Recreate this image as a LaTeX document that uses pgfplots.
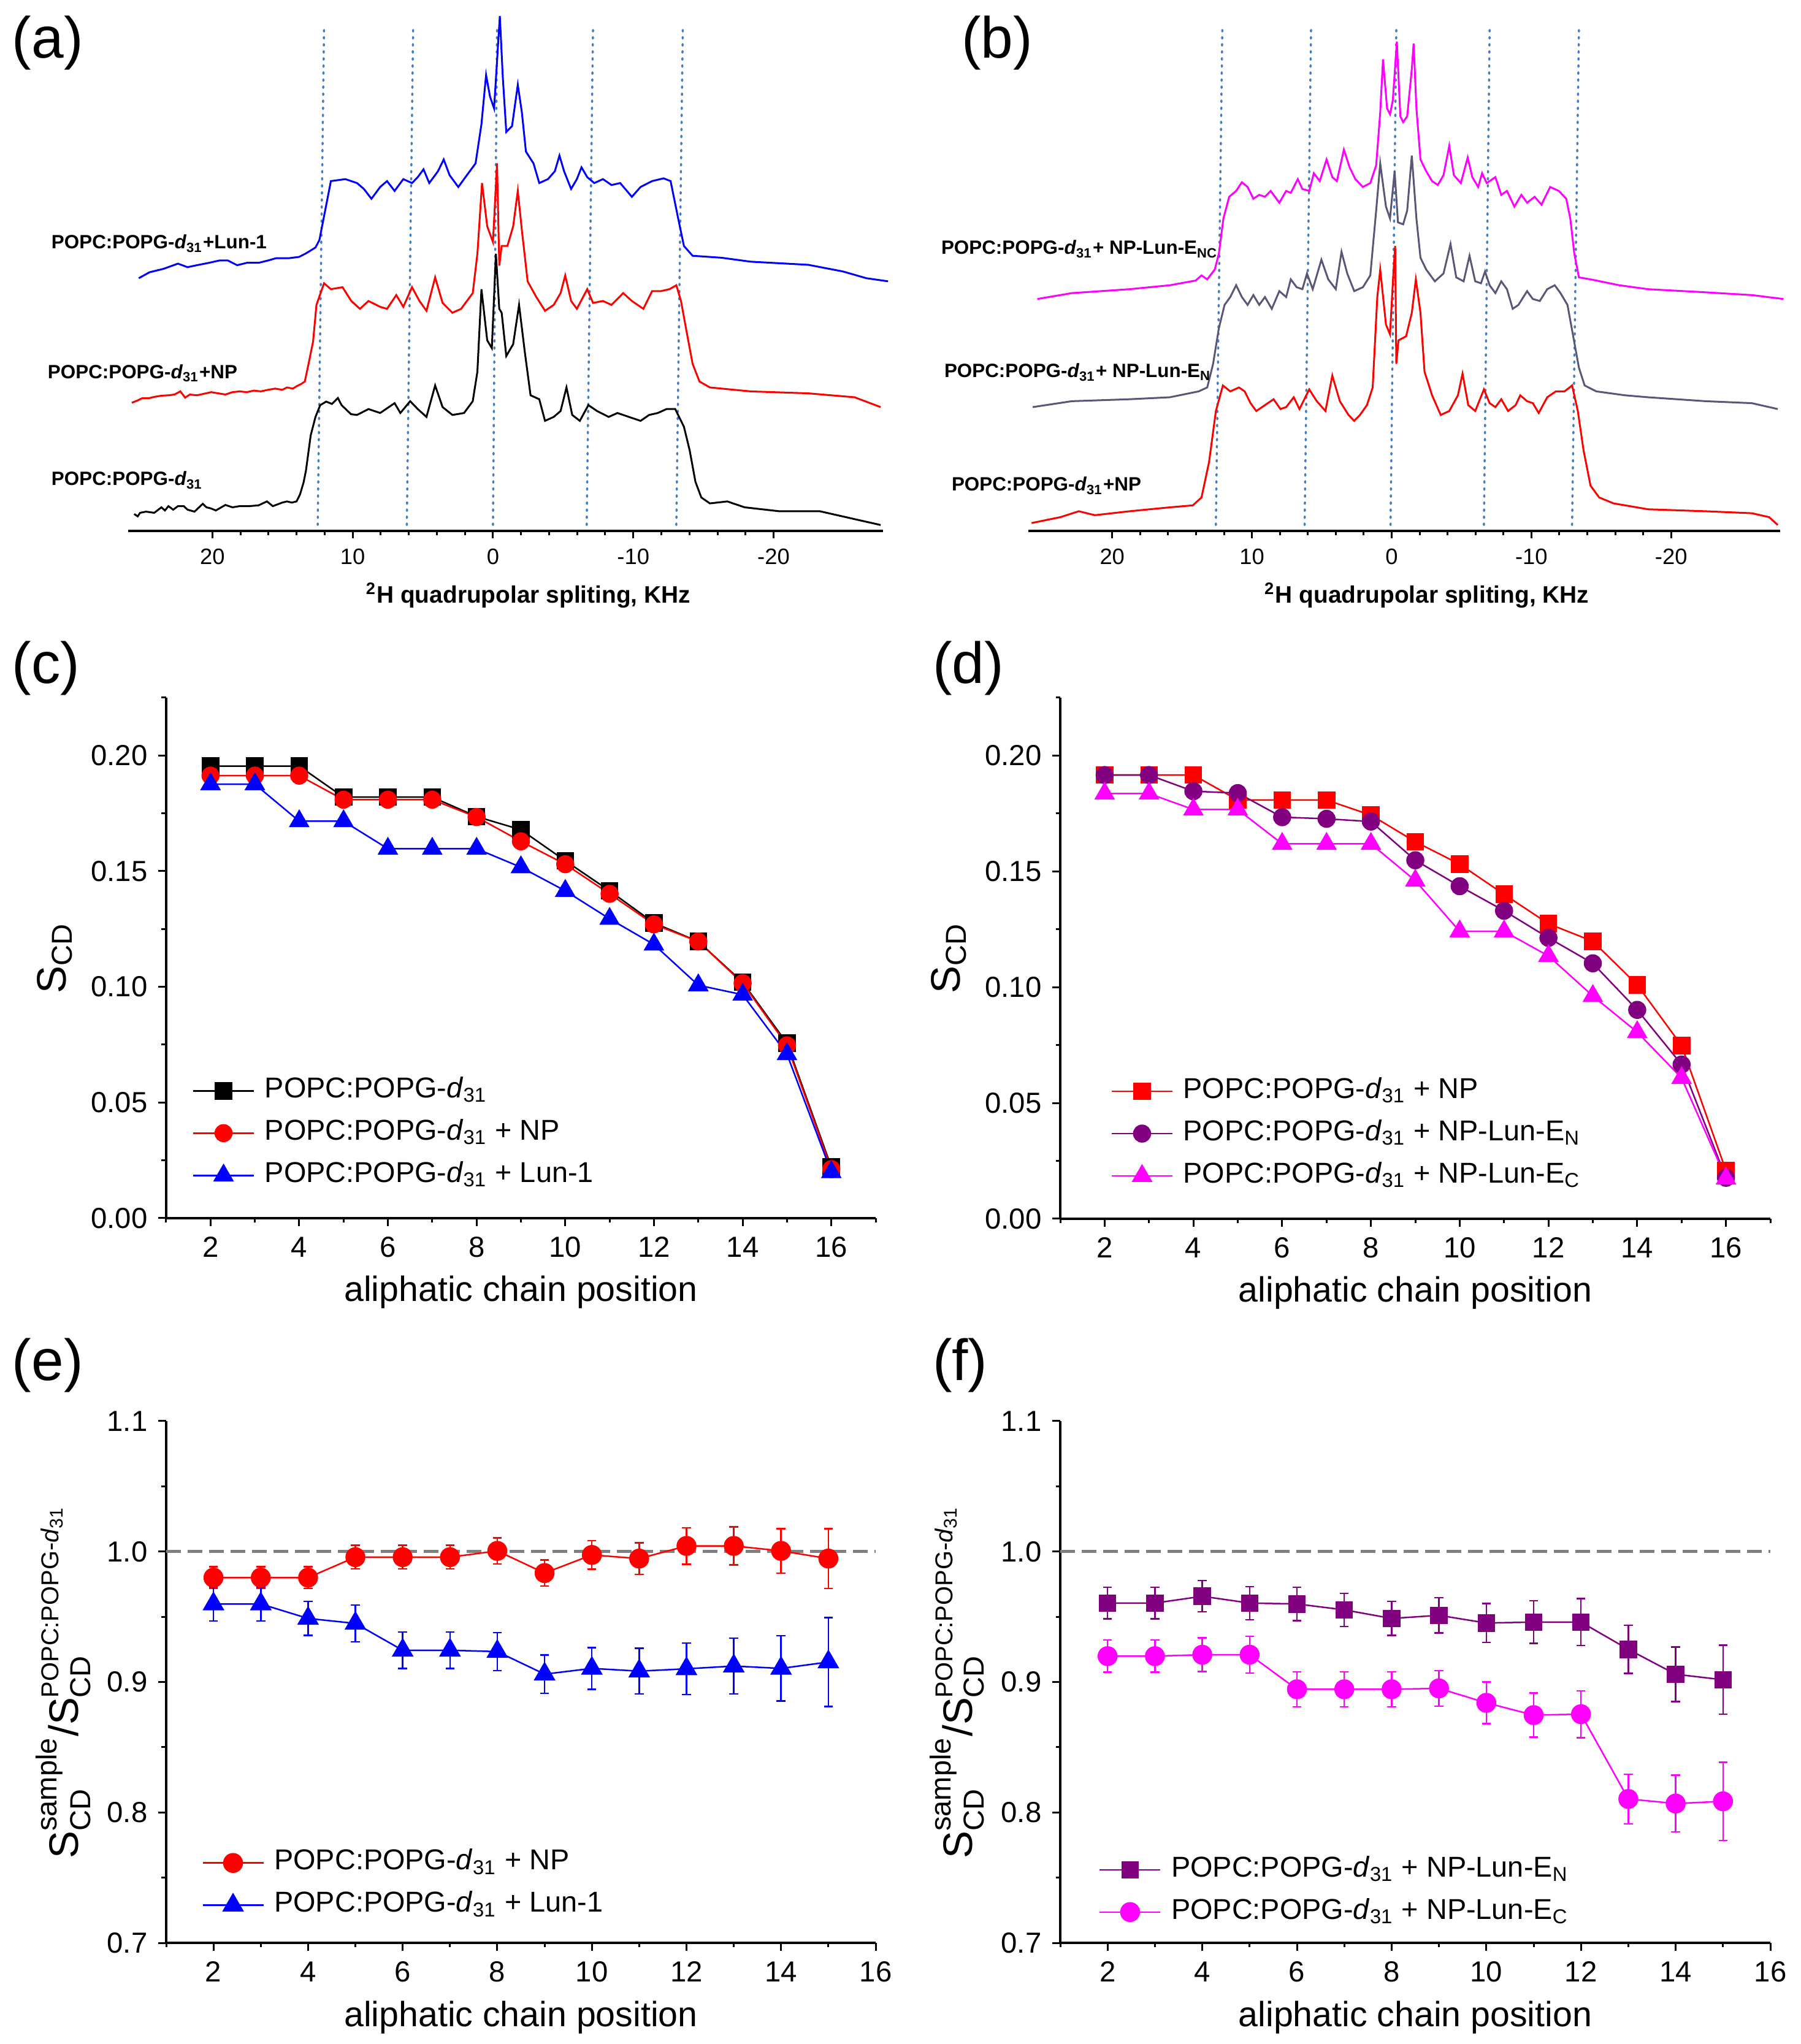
\documentclass[border=0pt]{standalone}
\usepackage{pgfplots}
\usepackage{pgfplotstable}
\pgfplotsset{compat=1.18}
\usepackage{amsmath}
\usepackage{fontspec}
\setmainfont{Liberation Sans}
\definecolor{cRed}{RGB}{255,0,0}
\definecolor{cBlue}{RGB}{0,0,255}
\definecolor{cMag}{RGB}{255,0,255}
\definecolor{cPur}{RGB}{128,0,128}
\definecolor{cSlate}{RGB}{90,86,118}
\definecolor{cDot}{RGB}{70,125,190}
\definecolor{cDash}{RGB}{128,128,128}

\pgfplotstableread{
x y e
2 0.980 0.0083
3 0.980 0.0083
4 0.980 0.0083
5 0.9957 0.009
6 0.9957 0.009
7 0.9957 0.009
8 1.0005 0.010
9 0.9835 0.010
10 0.9974 0.011
11 0.9946 0.012
12 1.0043 0.014
13 1.0043 0.0145
14 1.0005 0.017
15 0.9946 0.023
}\tabENP
\pgfplotstableread{
x y e
2 0.9598 0.013
3 0.9598 0.013
4 0.9487 0.013
5 0.9449 0.014
6 0.9243 0.014
7 0.9243 0.014
8 0.9233 0.0145
9 0.906 0.0146
10 0.9104 0.016
11 0.9083 0.0175
12 0.9101 0.0198
13 0.9122 0.0214
14 0.9104 0.025
15 0.9153 0.034
}\tabELun
\pgfplotstableread{
x y e
2 0.9605 0.012
3 0.9605 0.012
4 0.9657 0.012
5 0.9605 0.0127
6 0.9598 0.0129
7 0.9553 0.0127
8 0.9487 0.013
9 0.9511 0.0136
10 0.9452 0.015
11 0.9459 0.0163
12 0.9459 0.018
13 0.925 0.0184
14 0.9059 0.0209
15 0.9017 0.0264
}\tabFN
\pgfplotstableread{
x y e
2 0.9198 0.0123
3 0.9198 0.0123
4 0.9209 0.013
5 0.9209 0.014
6 0.8944 0.0134
7 0.8944 0.0134
8 0.8944 0.0134
9 0.8951 0.0137
10 0.884 0.016
11 0.8746 0.017
12 0.8753 0.018
13 0.8103 0.019
14 0.8068 0.0217
15 0.8085 0.030
}\tabFC

\pgfplotsset{
  spec/.style={
    scale only axis, height=167.2bp,
    x dir=reverse, xmin=-27.8, xmax=26.0, ymin=0, ymax=1304,
    axis x line*=bottom, axis y line=none,
    axis line style={-, line width=0.8bp},
    xtick={-20,-10,0,10,20}, xticklabels={-20,-10,0,10,20},
    minor x tick num=4,
    tick align=outside, tick style={black, line width=0.6bp},
    major tick length=2.4bp, minor tick length=1.4bp,
    xticklabel style={font=\fontsize{7.3}{8}\selectfont},
    xlabel={\textbf{\textsuperscript{2}H quadrupolar spliting, KHz}},
    xlabel style={font=\fontsize{7.8}{9}\selectfont, at={(axis description cs:0.53,0)}, anchor=base, yshift=-23.6bp},
    clip=false,
  },
  sp/.style={line width=0.6bp, no markers},
  vl/.style={cDot, line width=0.7bp, dash pattern=on 0.5bp off 1.8bp, line cap=round, no markers},
  orig/.style={
    scale only axis,
    axis x line*=bottom, axis y line*=left,
    axis line style={-, line width=0.8bp},
    tick align=outside, tick style={black, line width=0.6bp},
    major tick length=2.6bp, minor tick length=1.5bp,
    ticklabel style={font=\fontsize{9.5}{11}\selectfont},
    /pgf/number format/assume math mode=true,
    xtick={2,4,...,16}, minor xtick={1,3,...,17},
    xlabel={aliphatic chain position},
    xlabel style={font=\fontsize{11.5}{13}\selectfont, at={(axis description cs:0.5,0)}, anchor=base, yshift=-27.2bp},
    clip=false,
    legend cell align=left,
    legend image code/.code={
      \draw[mark repeat=2,mark phase=2,##1] plot coordinates {(0bp,0bp) (9.9bp,0bp) (19.8bp,0bp)};
    },
    legend style={draw=none, fill=none, inner sep=0pt, outer sep=0pt, anchor=north west,
      font=\fontsize{9.4}{11}\selectfont, row sep=4.3bp,
      nodes={inner sep=0pt, text height=7bp, text depth=2.5bp},
      /tikz/every odd column/.append style={column sep=3.3bp}},
  },
  sline/.style={line width=0.5bp},
  eb/.style={error bars/.cd, y dir=both, y explicit,
     error bar style={line width=0.5bp, #1},
     error mark options={#1, rotate=90, mark size=1.45bp, line width=0.5bp}},
}

\begin{document}
\begin{tikzpicture}
\useasboundingbox (0,0) rectangle (587.4bp,666.8bp);

% ---------------- (a)
\begin{axis}[spec, width=246.2bp, at={(41.8bp,493.6bp)}, anchor=south west]
\addplot[vl] coordinates {(12.49,15) (12.04,1277)};
\addplot[vl] coordinates {(6.14,15) (5.69,1277)};
\addplot[vl] coordinates {(0,15) (-0.29,1277)};
\addplot[vl] coordinates {(-6.68,15) (-7.13,1277)};
\addplot[vl] coordinates {(-13.07,15) (-13.53,1277)};
\addplot[sp, black] coordinates {(25.57,43) (25.32,37) (25.15,46) (24.73,49) (24.14,46) (23.63,60) (23.38,52) (23.13,63) (22.79,54) (22.45,63) (22.03,63) (21.77,54) (21.27,49) (20.68,69) (20.42,60) (20.08,57) (19.75,52) (19.07,66) (18.56,60) (18.06,63) (17.38,63) (16.71,65) (16.11,75) (15.69,63) (15.02,72) (14.68,75) (14.34,72) (14.00,75) (13.75,93) (13.50,123) (13.33,153) (12.99,243) (12.65,290) (12.31,320) (11.89,329) (11.47,323) (11.05,338) (10.79,320) (10.12,297) (9.69,295) (8.87,310) (8.04,300) (7.01,325) (6.60,300) (5.90,330) (5.36,310) (4.74,290) (4.12,370) (3.59,315) (2.89,295) (2.06,300) (1.44,330) (1.11,405) (0.82,615) (0.41,485) (0.08,465) (-0.21,705) (-0.45,565) (-0.62,555) (-0.95,445) (-1.44,475) (-1.86,575) (-2.27,455) (-2.68,345) (-3.30,335) (-3.71,280) (-4.33,290) (-4.82,305) (-5.24,365) (-5.65,295) (-6.19,280) (-6.80,320) (-7.42,305) (-8.25,290) (-8.87,300) (-9.69,290) (-10.52,280) (-11.13,295) (-11.75,300) (-12.37,310) (-12.99,310) (-13.61,265) (-14.02,205) (-14.43,125) (-14.85,85) (-15.46,70) (-16.70,75) (-17.94,60) (-20.41,50) (-23.30,50) (-25.77,30) (-27.63,15)};
\addplot[sp, cRed] coordinates {(25.74,326) (25.32,332) (24.98,338) (24.48,338) (24.14,341) (23.63,344) (23.13,345) (22.70,347) (22.28,355) (21.94,339) (21.60,347) (21.10,345) (20.59,349) (20.08,353) (19.58,350) (19.07,347) (18.56,353) (18.06,355) (17.55,353) (17.04,357) (16.54,355) (16.03,359) (15.52,362) (15.02,359) (14.68,365) (14.26,362) (14.00,368) (13.66,374) (13.41,380) (13.16,422) (12.82,482) (12.58,575) (12.04,630) (11.55,615) (10.72,620) (10.10,585) (9.48,565) (8.87,585) (8.04,570) (7.55,565) (6.89,600) (6.39,570) (5.77,620) (5.24,585) (4.74,560) (4.12,645) (3.59,580) (2.89,555) (2.27,565) (1.44,605) (1.11,705) (0.78,885) (0.41,775) (0,735) (-0.29,935) (-0.45,675) (-0.62,725) (-1.03,725) (-1.44,775) (-1.77,865) (-2.06,765) (-2.47,635) (-3.09,595) (-3.71,560) (-4.33,575) (-4.82,605) (-5.15,650) (-5.57,585) (-5.98,565) (-6.72,615) (-7.13,580) (-7.84,585) (-8.45,575) (-9.28,605) (-9.90,585) (-10.72,565) (-11.34,610) (-11.96,610) (-12.58,615) (-13.07,625) (-13.40,585) (-13.81,505) (-14.23,425) (-14.72,380) (-15.46,365) (-18.35,355) (-22.47,350) (-25.77,340) (-27.63,315)};
\addplot[sp, cBlue] coordinates {(25.24,643) (24.48,658) (23.46,667) (22.45,680) (21.77,671) (21.10,676) (20.25,682) (19.49,688) (18.90,688) (18.23,676) (17.55,682) (16.71,682) (16.03,688) (15.44,694) (14.51,694) (13.83,697) (13.33,706) (12.65,721) (12.37,740) (11.96,815) (11.55,890) (10.52,895) (9.69,885) (9.20,870) (8.66,845) (8.04,875) (7.55,890) (7.01,865) (6.39,895) (5.77,885) (5.36,900) (4.95,920) (4.54,885) (3.92,915) (3.51,945) (3.09,905) (2.47,875) (1.86,905) (1.24,935) (0.82,1035) (0.49,1160) (0.21,1105) (-0.08,1075) (-0.29,1195) (-0.49,1310) (-0.70,1155) (-0.95,1015) (-1.36,1030) (-1.77,1135) (-2.06,1065) (-2.35,965) (-2.89,935) (-3.30,885) (-3.92,895) (-4.41,915) (-4.74,955) (-5.07,915) (-5.57,870) (-5.98,895) (-6.31,925) (-6.72,900) (-7.22,885) (-7.84,895) (-8.45,880) (-9.07,885) (-9.90,850) (-10.52,875) (-11.34,890) (-12.16,897) (-12.66,890) (-13.20,795) (-13.61,725) (-14.23,700) (-16.29,695) (-18.35,685) (-22.47,677) (-24.95,660) (-26.60,643) (-28.16,635)};
\end{axis}

% ---------------- (b)
\begin{axis}[spec, width=245.2bp, at={(335.4bp,493.6bp)}, anchor=south west]
\addplot[vl] coordinates {(12.58,15) (12.12,1275)};
\addplot[vl] coordinates {(6.23,15) (5.77,1275)};
\addplot[vl] coordinates {(0.08,15) (-0.33,1275)};
\addplot[vl] coordinates {(-6.60,15) (-7.01,1275)};
\addplot[vl] coordinates {(-12.91,15) (-13.40,1275)};
\addplot[sp, cRed] coordinates {(25.77,20) (23.71,35) (22.39,50) (21.24,40) (18.76,50) (15.88,60) (14.23,65) (13.61,85) (13.07,175) (12.58,305) (12.08,370) (11.55,355) (10.93,365) (10.52,355) (10.10,325) (9.69,305) (9.07,320) (8.45,335) (7.96,310) (7.55,315) (7.01,340) (6.60,310) (5.90,360) (5.36,330) (4.74,305) (4.25,395) (3.71,330) (3.09,295) (2.68,280) (2.27,295) (1.77,320) (1.36,365) (1.03,595) (0.82,665) (0.41,525) (0.12,500) (-0.12,655) (-0.25,725) (-0.33,425) (-0.49,485) (-1.03,495) (-1.44,555) (-1.73,640) (-2.06,555) (-2.35,405) (-2.89,345) (-3.51,295) (-4.12,305) (-4.74,345) (-5.07,400) (-5.48,320) (-5.98,305) (-6.60,360) (-7.01,325) (-7.42,315) (-7.84,335) (-8.33,305) (-8.87,320) (-9.20,345) (-9.69,330) (-10.10,325) (-10.52,300) (-11.13,340) (-11.75,355) (-12.37,355) (-12.91,370) (-13.32,305) (-13.73,205) (-14.23,115) (-14.85,85) (-15.88,70) (-18.35,55) (-22.47,50) (-25.77,45) (-27.01,35) (-27.63,15)};
\addplot[sp, cSlate] coordinates {(25.69,315) (22.89,330) (18.76,335) (15.88,340) (13.81,355) (13.20,365) (12.78,425) (12.37,515) (11.96,575) (11.55,595) (11.13,625) (10.72,595) (10.31,575) (9.90,600) (9.48,575) (9.07,595) (8.58,565) (8.04,610) (7.55,595) (7.22,640) (6.80,620) (6.39,615) (6.06,655) (5.65,615) (5.03,690) (4.54,640) (4.00,615) (3.59,710) (3.18,655) (2.68,610) (2.06,620) (1.53,650) (1.11,815) (0.82,935) (0.41,825) (0.12,795) (-0.21,915) (-0.45,785) (-0.82,780) (-1.11,815) (-1.44,955) (-1.77,795) (-2.06,695) (-2.47,665) (-3.09,635) (-3.71,655) (-4.21,730) (-4.62,645) (-5.15,635) (-5.57,700) (-5.98,635) (-6.39,630) (-6.68,660) (-7.01,625) (-7.42,605) (-7.84,635) (-8.25,615) (-8.66,565) (-9.07,575) (-9.69,610) (-10.10,590) (-10.60,585) (-11.13,615) (-11.67,625) (-12.08,605) (-12.58,575) (-12.99,495) (-13.40,415) (-13.81,370) (-14.64,355) (-16.70,345) (-18.35,340) (-22.47,330) (-25.77,325) (-27.63,310)};
\addplot[sp, cMag] coordinates {(25.36,590) (22.89,605) (18.76,615) (15.88,625) (14.02,637) (13.61,650) (13.20,640) (12.66,665) (12.37,705) (12.04,795) (11.63,850) (11.13,865) (10.72,887) (10.31,875) (9.90,845) (9.48,855) (9.07,850) (8.66,865) (8.04,835) (7.55,865) (7.22,860) (6.72,895) (6.39,870) (5.90,865) (5.57,910) (5.15,890) (4.66,945) (4.25,900) (3.92,890) (3.42,970) (3.01,925) (2.60,895) (2.06,875) (1.53,885) (1.11,930) (0.82,1065) (0.62,1200) (0.33,1075) (0.12,1060) (-0.08,1095) (-0.37,1245) (-0.62,1055) (-0.82,1040) (-1.11,1055) (-1.44,1175) (-1.57,1240) (-1.77,1075) (-2.06,945) (-2.47,915) (-2.89,890) (-3.30,880) (-3.71,905) (-4.12,980) (-4.45,905) (-4.95,885) (-5.44,950) (-5.77,900) (-6.19,875) (-6.47,910) (-6.80,885) (-7.42,900) (-7.84,855) (-8.25,865) (-8.78,825) (-9.28,855) (-9.69,835) (-10.23,850) (-10.72,830) (-11.34,875) (-11.96,865) (-12.49,845) (-12.78,795) (-13.07,705) (-13.40,645) (-14.23,640) (-16.29,625) (-18.35,615) (-22.47,607) (-25.77,600) (-28.04,590)};
\end{axis}

% spectrum labels
\node[anchor=base west, inner sep=0pt, font=\fontsize{6.3}{7}\selectfont\bfseries] at (16.6bp,585.6bp) {POPC:POPG-\textit{d}\textsubscript{31}+Lun-1};
\node[anchor=base west, inner sep=0pt, font=\fontsize{6.3}{7}\selectfont\bfseries] at (15.4bp,543.3bp) {POPC:POPG-\textit{d}\textsubscript{31}+NP};
\node[anchor=base west, inner sep=0pt, font=\fontsize{6.3}{7}\selectfont\bfseries] at (16.6bp,508.4bp) {POPC:POPG-\textit{d}\textsubscript{31}};
\node[anchor=base west, inner sep=0pt, font=\fontsize{6.3}{7}\selectfont\bfseries] at (306.8bp,583.8bp) {POPC:POPG-\textit{d}\textsubscript{31}+ NP-Lun-E\textsubscript{NC}};
\node[anchor=base west, inner sep=0pt, font=\fontsize{6.3}{7}\selectfont\bfseries] at (307.8bp,543.6bp) {POPC:POPG-\textit{d}\textsubscript{31}+ NP-Lun-E\textsubscript{N}};
\node[anchor=base west, inner sep=0pt, font=\fontsize{6.3}{7}\selectfont\bfseries] at (310.2bp,506.6bp) {POPC:POPG-\textit{d}\textsubscript{31}+NP};

% ---------------- (c)
\begin{axis}[orig, width=231.4bp, height=169.8bp, at={(54.2bp,269.4bp)}, anchor=south west,
  xmin=1, xmax=17, ymin=0, ymax=0.225,
  ytick={0,0.05,...,0.2}, minor ytick={0.025,0.075,...,0.2},
  yticklabel style={/pgf/number format/.cd, fixed, fixed zerofill, precision=2},
  ylabel={S\textsubscript{CD}},
  ylabel style={font=\fontsize{13.5}{15}\selectfont, at={(axis description cs:-0.157,0.5)}, anchor=center},
  legend style={at={(0.037,0.2726)}}]
\addplot[sline, black, mark=square*, mark size=2.6bp] coordinates {(2,0.1954) (3,0.1954) (4,0.1954) (5,0.182) (6,0.182) (7,0.182) (8,0.1736) (9,0.1679) (10,0.1545) (11,0.1415) (12,0.1276) (13,0.1196) (14,0.102) (15,0.0756) (16,0.0221)};
\addlegendentry{POPC:POPG-\textit{d}\textsubscript{31}}
\addplot[sline, cRed, mark=*, mark size=2.7bp] coordinates {(2,0.1913) (3,0.1913) (4,0.1913) (5,0.1809) (6,0.1809) (7,0.1809) (8,0.1734) (9,0.1629) (10,0.153) (11,0.1402) (12,0.127) (13,0.1196) (14,0.1016) (15,0.0747) (16,0.0212)};
\addlegendentry{POPC:POPG-\textit{d}\textsubscript{31} + NP}
\addplot[sline, cBlue, mark=triangle*, mark size=3.4bp] coordinates {(2,0.1876) (3,0.1876) (4,0.1716) (5,0.1716) (6,0.1597) (7,0.1597) (8,0.1597) (9,0.1517) (10,0.1415) (11,0.1294) (12,0.1183) (13,0.1007) (14,0.0966) (15,0.0709) (16,0.0199)};
\addlegendentry{POPC:POPG-\textit{d}\textsubscript{31} + Lun-1}
\end{axis}

% ---------------- (d)
\begin{axis}[orig, width=231.6bp, height=170bp, at={(345.8bp,269.2bp)}, anchor=south west,
  xmin=1, xmax=17, ymin=0, ymax=0.225,
  ytick={0,0.05,...,0.2}, minor ytick={0.025,0.075,...,0.2},
  yticklabel style={/pgf/number format/.cd, fixed, fixed zerofill, precision=2},
  ylabel={S\textsubscript{CD}},
  ylabel style={font=\fontsize{13.5}{15}\selectfont, at={(axis description cs:-0.157,0.5)}, anchor=center},
  legend style={at={(0.0714,0.2726)}}]
\addplot[sline, cRed, mark=square*, mark size=2.6bp] coordinates {(2,0.1916) (3,0.1916) (4,0.1916) (5,0.1808) (6,0.1808) (7,0.1808) (8,0.1743) (9,0.1628) (10,0.1531) (11,0.1401) (12,0.1274) (13,0.1198) (14,0.101) (15,0.0748) (16,0.0208)};
\addlegendentry{POPC:POPG-\textit{d}\textsubscript{31} + NP}
\addplot[sline, cPur, mark=*, mark size=2.7bp] coordinates {(2,0.1916) (3,0.1916) (4,0.1846) (5,0.1838) (6,0.1734) (7,0.1727) (8,0.1715) (9,0.1548) (10,0.1436) (11,0.133) (12,0.1213) (13,0.1103) (14,0.0902) (15,0.0666) (16,0.0177)};
\addlegendentry{POPC:POPG-\textit{d}\textsubscript{31} + NP-Lun-E\textsubscript{N}}
\addplot[sline, cMag, mark=triangle*, mark size=3.4bp] coordinates {(2,0.1836) (3,0.1836) (4,0.1767) (5,0.1767) (6,0.1619) (7,0.1619) (8,0.1619) (9,0.146) (10,0.1241) (11,0.1241) (12,0.1135) (13,0.0962) (14,0.0806) (15,0.0608) (16,0.0174)};
\addlegendentry{POPC:POPG-\textit{d}\textsubscript{31} + NP-Lun-E\textsubscript{C}}
\end{axis}

% ---------------- (e)
\begin{axis}[orig, width=231.4bp, height=170.2bp, at={(54.2bp,33bp)}, anchor=south west,
  xmin=1, xmax=16, ymin=0.7, ymax=1.1, minor xtick={1,3,...,15},
  ytick={0.7,0.8,...,1.1}, minor ytick={0.75,0.85,...,1.1},
  yticklabel style={/pgf/number format/.cd, fixed, fixed zerofill, precision=1},
  ylabel={S$^{\text{sample}}_{\text{CD}}$/S$^{\text{\fontsize{8}{9}\selectfont POPC:POPG-\textit{d}\textsubscript{31}}}_{\text{CD}}$},
  ylabel style={font=\fontsize{13.5}{15}\selectfont, at={(axis description cs:-0.145,0.5)}, anchor=center},
  legend style={at={(0.0504,0.181)}}]
\addplot[cDash, line width=1bp, dash pattern=on 4.7bp off 2.3bp, forget plot] coordinates {(1,1) (16,1)};
\addplot[sline, cRed, mark=*, mark size=3bp, eb=cRed] table[x=x, y=y, y error=e] {\tabENP};
\addlegendentry{POPC:POPG-\textit{d}\textsubscript{31} + NP}
\addplot[sline, cBlue, mark=triangle*, mark size=3.6bp, eb=cBlue] table[x=x, y=y, y error=e] {\tabELun};
\addlegendentry{POPC:POPG-\textit{d}\textsubscript{31} + Lun-1}
\end{axis}

% ---------------- (f)
\begin{axis}[orig, width=231.6bp, height=170.2bp, at={(345.8bp,33bp)}, anchor=south west,
  xmin=1, xmax=16, ymin=0.7, ymax=1.1, minor xtick={1,3,...,15},
  ytick={0.7,0.8,...,1.1}, minor ytick={0.75,0.85,...,1.1},
  yticklabel style={/pgf/number format/.cd, fixed, fixed zerofill, precision=1},
  ylabel={S$^{\text{sample}}_{\text{CD}}$/S$^{\text{\fontsize{8}{9}\selectfont POPC:POPG-\textit{d}\textsubscript{31}}}_{\text{CD}}$},
  ylabel style={font=\fontsize{13.5}{15}\selectfont, at={(axis description cs:-0.145,0.5)}, anchor=center},
  legend style={at={(0.0545,0.168)}}]
\addplot[cDash, line width=1bp, dash pattern=on 4.7bp off 2.3bp, forget plot] coordinates {(1,1) (16,1)};
\addplot[sline, cPur, mark=square*, mark size=2.6bp, eb=cPur] table[x=x, y=y, y error=e] {\tabFN};
\addlegendentry{POPC:POPG-\textit{d}\textsubscript{31} + NP-Lun-E\textsubscript{N}}
\addplot[sline, cMag, mark=*, mark size=3bp, eb=cMag] table[x=x, y=y, y error=e] {\tabFC};
\addlegendentry{POPC:POPG-\textit{d}\textsubscript{31} + NP-Lun-E\textsubscript{C}}
\end{axis}

% panel letters
\node[anchor=base west, inner sep=0pt, font=\fontsize{19}{21}\selectfont] at (3.8bp,647.8bp) {(a)};
\node[anchor=base west, inner sep=0pt, font=\fontsize{19}{21}\selectfont] at (313.4bp,647.8bp) {(b)};
\node[anchor=base west, inner sep=0pt, font=\fontsize{19}{21}\selectfont] at (3.8bp,443.8bp) {(c)};
\node[anchor=base west, inner sep=0pt, font=\fontsize{19}{21}\selectfont] at (304bp,443.8bp) {(d)};
\node[anchor=base west, inner sep=0pt, font=\fontsize{19}{21}\selectfont] at (3.8bp,216.4bp) {(e)};
\node[anchor=base west, inner sep=0pt, font=\fontsize{19}{21}\selectfont] at (304bp,216.4bp) {(f)};
\end{tikzpicture}
\end{document}
